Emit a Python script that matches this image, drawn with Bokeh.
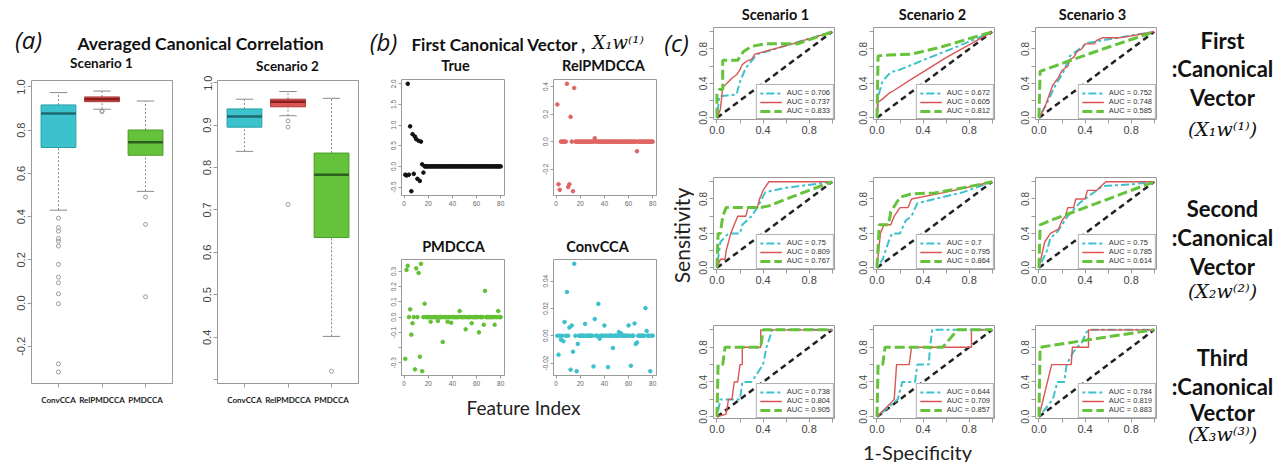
import numpy as np
from bokeh.plotting import figure
from bokeh.layouts import row, column
from bokeh.models import Range1d, FixedTicker, NumeralTickFormatter, Legend, LegendItem
from bokeh.core.properties import value
from bokeh.embed import file_html
from bokeh.resources import INLINE

# ------------------------------------------------------------------ data (a)
METHODS = ["ConvCCA", "RelPMDCCA", "PMDCCA"]
S1_LOWER = [0.43, 0.897, 0.517]
S1_Q1 = [0.72, 0.932, 0.684]
S1_MEDIAN = [0.877, 0.943, 0.744]
S1_Q3 = [0.917, 0.954, 0.801]
S1_UPPER = [0.974, 0.981, 0.935]
S1_OUTLIERS = [
    [0.393, 0.349, 0.333, 0.299, 0.287, 0.264, 0.179, 0.12, 0.094, 0.043, -0.003, -0.281, -0.319],
    [0.889, 0.886],
    [0.491, 0.364, 0.029],
]
S2_LOWER = [0.838, 0.922, 0.402]
S2_Q1 = [0.895, 0.943, 0.635]
S2_MEDIAN = [0.920, 0.955, 0.783]
S2_Q3 = [0.938, 0.961, 0.834]
S2_UPPER = [0.961, 0.979, 0.963]
S2_OUTLIERS = [[], [0.910, 0.895, 0.713], [0.320]]

# ------------------------------------------------------------------ data (b)
FEATURE_INDEX = list(range(1, 81))
TRUE_NONZERO = {1: -0.2, 2: -0.22, 3: 2.0, 4: -0.2, 5: 0.97, 6: -0.6, 7: 0.78, 8: -0.18,
                9: 0.72, 10: 0.66, 11: -0.3, 12: 0.62, 13: -0.35, 14: 0.6, 15: 0.05, 16: -0.15}
REL_NONZERO = {1: 0.27, 2: -0.31, 3: -0.35, 9: 0.42, 10: -0.33, 11: -0.31, 12: 0.18,
               14: -0.36, 15: 0.39, 32: 0.025, 67: -0.07}
PMD_NONZERO = {1: -0.274, 2: 0.31, 3: 0.337, 5: 0.051, 6: -0.115, 7: -0.04, 9: -0.343,
               10: 0.32, 12: 0.29, 13: -0.26, 14: 0.35, 15: -0.355, 17: 0.088, 22: -0.03,
               28: -0.025, 32: -0.163, 36: -0.03, 39: -0.037, 46: 0.04, 51: -0.08,
               56: -0.04, 62: -0.1, 66: -0.05, 67: 0.172, 75: -0.05, 78: 0.04}
CONV_NONZERO = {2: -0.0139, 4: -0.003, 6: -0.004, 7: 0.01, 9: 0.032, 11: 0.006, 12: -0.0249,
                13: 0.0075, 14: -0.0117, 15: 0.0527, 17: -0.026, 18: -0.006, 24: 0.0087,
                31: -0.0225, 32: 0.0122, 35: 0.0233, 36: -0.0022, 40: 0.0075, 43: -0.023,
                47: -0.009, 52: 0.0027, 54: 0.0015, 60: 0.0075, 62: -0.022, 65: 0.009,
                66: -0.006, 67: -0.005, 74: 0.0202, 75: 0.0035, 78: -0.026}

# ------------------------------------------------------------------ data (c)  (FPR, TPR)
CHANCE = [(0, 0), (1, 1)]
R1S1_CONV = [(0, 0), (0.01, 0.12), (0.02, 0.25), (0.17, 0.27), (0.2, 0.42), (0.25, 0.58), (0.3, 0.66), (0.35, 0.74), (0.6, 0.84), (1, 1)]
R1S1_REL = [(0, 0), (0.03, 0.1), (0.05, 0.35), (0.07, 0.38), (0.1, 0.42), (0.13, 0.46), (0.17, 0.5), (0.2, 0.56), (0.22, 0.62), (0.26, 0.66), (0.3, 0.68), (0.33, 0.74), (0.6, 0.84), (1, 1)]
R1S1_PMD = [(0, 0), (0, 0.27), (0.02, 0.33), (0.05, 0.33), (0.05, 0.67), (0.18, 0.67), (0.23, 0.77), (0.3, 0.83), (0.42, 0.86), (0.7, 0.86), (1, 1)]
R1S2_CONV = [(0, 0), (0.01, 0.25), (0.05, 0.43), (0.12, 0.53), (0.2, 0.56), (0.4, 0.67), (0.7, 0.83), (1, 1)]
R1S2_REL = [(0, 0), (0.01, 0.18), (0.05, 0.22), (0.1, 0.28), (0.15, 0.32), (0.3, 0.45), (0.6, 0.7), (1, 1)]
R1S2_PMD = [(0, 0), (0.01, 0.72), (0.1, 0.73), (0.3, 0.74), (0.55, 0.82), (0.8, 0.92), (1, 1)]
R1S3_CONV = [(0, 0), (0.08, 0.2), (0.15, 0.4), (0.2, 0.5), (0.27, 0.72), (0.35, 0.8), (0.42, 0.87), (0.55, 0.9), (1, 1)]
R1S3_REL = [(0, 0), (0.05, 0.12), (0.12, 0.38), (0.17, 0.47), (0.2, 0.55), (0.25, 0.6), (0.27, 0.68), (0.3, 0.7), (0.33, 0.77), (0.37, 0.8), (0.4, 0.86), (0.48, 0.86), (0.5, 0.9), (0.55, 0.93), (0.7, 0.93), (1, 1)]
R1S3_PMD = [(0, 0), (0.01, 0.54), (0.3, 0.68), (0.6, 0.82), (1, 1)]
R2S1_CONV = [(0, 0), (0.01, 0.1), (0.03, 0.3), (0.1, 0.4), (0.2, 0.4), (0.22, 0.5), (0.3, 0.6), (0.35, 0.7), (0.42, 0.88), (0.6, 0.93), (1, 1)]
R2S1_REL = [(0, 0), (0.03, 0.1), (0.07, 0.1), (0.08, 0.2), (0.1, 0.3), (0.12, 0.4), (0.15, 0.5), (0.18, 0.6), (0.25, 0.6), (0.27, 0.7), (0.35, 0.7), (0.37, 0.8), (0.4, 0.9), (0.45, 1.0), (1, 1)]
R2S1_PMD = [(0, 0), (0.01, 0.4), (0.03, 0.4), (0.05, 0.6), (0.08, 0.7), (0.38, 0.7), (0.45, 0.72), (0.7, 0.85), (1, 1)]
R2S2_CONV = [(0, 0), (0.05, 0.1), (0.1, 0.3), (0.13, 0.4), (0.2, 0.4), (0.25, 0.55), (0.3, 0.6), (0.35, 0.75), (0.5, 0.8), (0.75, 0.88), (1, 1)]
R2S2_REL = [(0, 0), (0.03, 0.4), (0.06, 0.5), (0.12, 0.5), (0.15, 0.6), (0.2, 0.7), (0.27, 0.7), (0.3, 0.8), (0.6, 0.88), (1, 1)]
R2S2_PMD = [(0, 0), (0.02, 0.5), (0.1, 0.5), (0.12, 0.65), (0.2, 0.82), (0.3, 0.86), (0.5, 0.87), (0.75, 0.93), (1, 1)]
R2S3_CONV = [(0, 0), (0.07, 0.2), (0.1, 0.35), (0.15, 0.4), (0.2, 0.5), (0.25, 0.6), (0.35, 0.75), (0.45, 0.85), (0.55, 0.95), (0.8, 0.97), (1, 1)]
R2S3_REL = [(0, 0), (0.05, 0.3), (0.1, 0.4), (0.17, 0.45), (0.2, 0.55), (0.23, 0.6), (0.25, 0.7), (0.3, 0.7), (0.32, 0.8), (0.4, 0.8), (0.42, 0.9), (0.5, 0.9), (0.58, 1.0), (1, 1)]
R2S3_PMD = [(0, 0), (0.01, 0.5), (0.1, 0.55), (0.5, 0.75), (1, 1)]
R3S1_CONV = [(0, 0), (0.03, 0.2), (0.2, 0.2), (0.22, 0.4), (0.3, 0.4), (0.4, 0.6), (0.43, 0.8), (0.48, 1.0), (1, 1)]
R3S1_REL = [(0, 0), (0.08, 0.03), (0.1, 0.2), (0.13, 0.2), (0.15, 0.4), (0.18, 0.4), (0.2, 0.6), (0.22, 0.6), (0.22, 0.8), (0.38, 0.8), (0.38, 1.0), (1, 1)]
R3S1_PMD = [(0, 0), (0.01, 0.6), (0.05, 0.6), (0.07, 0.8), (0.38, 0.8), (0.4, 1.0), (1, 1)]
R3S2_CONV = [(0, 0), (0.18, 0.2), (0.22, 0.4), (0.33, 0.4), (0.35, 0.6), (0.45, 0.6), (0.46, 0.8), (0.48, 1.0), (1, 1)]
R3S2_REL = [(0, 0), (0.15, 0.2), (0.17, 0.6), (0.28, 0.6), (0.3, 0.8), (0.82, 0.8), (0.82, 1.0), (1, 1)]
R3S2_PMD = [(0, 0), (0.01, 0.6), (0.05, 0.6), (0.07, 0.8), (0.57, 0.8), (0.7, 1.0), (1, 1)]
R3S3_CONV = [(0, 0), (0.12, 0.2), (0.16, 0.4), (0.22, 0.4), (0.24, 0.6), (0.3, 0.75), (0.37, 0.85), (0.41, 0.97), (0.44, 1.0), (1, 1)]
R3S3_REL = [(0, 0), (0.11, 0.6), (0.28, 0.6), (0.29, 0.8), (0.43, 0.8), (0.43, 1.0), (1, 1)]
R3S3_PMD = [(0, 0), (0.01, 0.8), (0.5, 0.9), (1, 1)]

AUC_ROW1 = [["0.706", "0.737", "0.833"], ["0.672", "0.605", "0.812"], ["0.752", "0.748", "0.585"]]
AUC_ROW2 = [["0.75", "0.809", "0.767"], ["0.7", "0.795", "0.864"], ["0.75", "0.785", "0.614"]]
AUC_ROW3 = [["0.738", "0.804", "0.905"], ["0.644", "0.709", "0.857"], ["0.784", "0.819", "0.883"]]
SCENARIOS = ["Scenario 1", "Scenario 2", "Scenario 3"]
VECTOR_TITLES = ["True", "RelPMDCCA", "PMDCCA", "ConvCCA"]
ROW_LABELS = [["First", ":Canonical", "Vector", "(X\u2081w\u207d\u00b9\u207e)"],
              ["Second", ":Canonical", "Vector", "(X\u2082w\u207d\u00b2\u207e)"],
              ["Third", ":Canonical", "Vector", "(X\u2083w\u207d\u00b3\u207e)"]]

# ------------------------------------------------------------------ styles
CYAN, RED, GREEN = "#3CC2CC", "#DA5552", "#65C23B"
CYAN_D, RED_D, GREEN_D = "#1D6A6E", "#8A1E1E", "#2C5E1C"
BOX_EDGE = ["#2A9FA6", "#A83A38", "#4A9A2A"]
FRAME = "#9a9a9a"
TITLE_FONT = "Lato"
AXIS_FONT = "Liberation Sans"


def base_fig(w, h, xr, yr, mbl, mbr, mbt, mbb):
    p = figure(width=w, height=h, x_range=xr, y_range=yr, output_backend="svg",
               toolbar_location=None, tools="", min_border_left=mbl, min_border_right=mbr,
               min_border_top=mbt, min_border_bottom=mbb)
    p.xgrid.visible = False
    p.ygrid.visible = False
    p.outline_line_color = FRAME
    p.background_fill_color = "white"
    p.border_fill_color = "white"
    for ax in (p.xaxis[0], p.yaxis[0]):
        ax.axis_line_color = None
        ax.major_tick_line_color = FRAME
        ax.minor_tick_line_color = FRAME
        ax.major_tick_out = 4
        ax.major_tick_in = 0
        ax.minor_tick_out = 4
        ax.minor_tick_in = 0
        ax.major_label_text_font = AXIS_FONT
        ax.major_label_text_color = "#444444"
        ax.major_label_standoff = 2
    p.yaxis[0].major_label_orientation = "vertical"
    return p


def canvas(w, h):
    p = figure(width=w, height=h, x_range=Range1d(0, w), y_range=Range1d(h, 0),
               output_backend="svg", toolbar_location=None, tools="", min_border=0,
               x_axis_type=None, y_axis_type=None)
    p.outline_line_color = None
    p.background_fill_color = "white"
    p.border_fill_color = "white"
    return p


def put_text(p, xs, ys, texts, size, font=TITLE_FONT, style="bold", color="#111111",
             align="center", angle=0.0):
    p.text(x=xs, y=ys, text=texts, angle=angle, text_font=value(font), text_font_style=style,
           text_font_size=size, text_align=align, text_baseline="middle", text_color=color)


def boxplot(w, h, mbl, mbr, mbt, mbb, lower, q1, med, q3, upper, outliers, yr, major, minor):
    xs = [1, 2, 3]
    p = base_fig(w, h, Range1d(0.38, 3.62), Range1d(*yr), mbl, mbr, mbt, mbb)
    p.segment(xs, q3, xs, upper, line_color="#8a8a8a", line_dash="2 2", line_width=1)
    p.segment(xs, lower, xs, q1, line_color="#8a8a8a", line_dash="2 2", line_width=1)
    p.segment([x - 0.2 for x in xs], upper, [x + 0.2 for x in xs], upper, line_color="#8a8a8a", line_width=1)
    p.segment([x - 0.2 for x in xs], lower, [x + 0.2 for x in xs], lower, line_color="#8a8a8a", line_width=1)
    p.vbar(x=xs, width=0.8, bottom=q1, top=q3, fill_color=[CYAN, RED, GREEN], line_color=BOX_EDGE)
    p.segment([x - 0.4 for x in xs], med, [x + 0.4 for x in xs], med,
              line_color=[CYAN_D, RED_D, GREEN_D], line_width=2.5)
    ox, oy = [], []
    for x, outs in zip(xs, outliers):
        ox += [x] * len(outs)
        oy += outs
    p.scatter(ox, oy, marker="circle", size=4, fill_color=None, line_color="#9a9a9a", line_width=1)
    p.xaxis[0].ticker = FixedTicker(ticks=xs)
    p.xaxis[0].major_label_overrides = {1: METHODS[0], 2: METHODS[1], 3: METHODS[2]}
    p.xaxis[0].major_label_text_font = TITLE_FONT
    p.xaxis[0].major_label_text_font_style = "bold"
    p.xaxis[0].major_label_text_color = "#222222"
    p.xaxis[0].major_label_text_font_size = "8px"
    p.xaxis[0].major_label_standoff = 7
    p.yaxis[0].ticker = FixedTicker(ticks=major, minor_ticks=minor)
    p.yaxis[0].formatter = NumeralTickFormatter(format="0.0")
    p.yaxis[0].major_label_text_font_size = "11px"
    return p


def pad_range(vals, frac=0.04):
    lo, hi = min(vals), max(vals)
    d = (hi - lo) * frac
    return Range1d(lo - d, hi + d)


def vector_plot(w, h, mbl, mbr, mbt, mbb, nonzero, color, major, minor, fmt):
    ys = [nonzero.get(i, 0.0) for i in FEATURE_INDEX]
    p = base_fig(w, h, pad_range(FEATURE_INDEX), pad_range(ys), mbl, mbr, mbt, mbb)
    p.scatter(FEATURE_INDEX, ys, marker="circle", size=3.6, color=color)
    p.xaxis[0].ticker = FixedTicker(ticks=[0, 20, 40, 60, 80])
    p.xaxis[0].formatter = NumeralTickFormatter(format="0")
    p.yaxis[0].ticker = FixedTicker(ticks=major, minor_ticks=minor)
    p.yaxis[0].formatter = NumeralTickFormatter(format=fmt)
    for ax in (p.xaxis[0], p.yaxis[0]):
        ax.major_label_text_font_size = "6.5px"
        ax.major_label_text_color = "#666666"
        ax.major_tick_out = 3
        ax.minor_tick_out = 3
    return p


def roc_plot(w, h, mbl, mbr, mbt, mbb, curves, aucs):
    p = base_fig(w, h, Range1d(-0.03, 1.02), Range1d(-0.02, 1.05), mbl, mbr, mbt, mbb)
    cx, cy = zip(*CHANCE)
    p.line(cx, cy, line_color="#222222", line_width=2.5, line_dash="6 4")
    styles = [(CYAN, 2, "3 3 8 3"), (RED, 1.4, "solid"), (GREEN, 3, "10 4")]
    items = []
    for pts, auc, (col, lw, dash) in zip(curves, aucs, styles):
        xs, ys = zip(*pts)
        r = p.line(xs, ys, line_color=col, line_width=lw, line_dash=dash)
        items.append(LegendItem(label="AUC = " + auc, renderers=[r]))
    leg = Legend(items=items, location="bottom_right", margin=0, padding=3, spacing=0,
                 label_text_font=AXIS_FONT, label_text_font_size="7.5px", label_height=8,
                 glyph_height=8, glyph_width=22, label_standoff=5,
                 border_line_color="#666666", border_line_width=1,
                 background_fill_color="white", background_fill_alpha=1,
                 label_text_color="#333333")
    p.add_layout(leg)
    p.xaxis[0].ticker = FixedTicker(ticks=[0, 0.4, 0.8], minor_ticks=[0.2, 0.6, 1.0])
    p.yaxis[0].ticker = FixedTicker(ticks=[0, 0.4, 0.8], minor_ticks=[0.2, 0.6, 1.0])
    for ax in (p.xaxis[0], p.yaxis[0]):
        ax.formatter = NumeralTickFormatter(format="0.0")
        ax.major_label_text_font_size = "11px"
    p.yaxis[0].major_label_text_font_size = "10px"
    return p


# ------------------------------------------------------------------ panel (a) + (b)
hdr = canvas(660, 75)
put_text(hdr, [28], [39], ["(a)"], "24px", font="Open Sans", style="italic")
put_text(hdr, [383], [41], ["(b)"], "24px", font="Open Sans", style="italic")
put_text(hdr, [200], [43], ["Averaged Canonical Correlation"], "17.5px")
put_text(hdr, [411], [44], ["First Canonical Vector ,"], "17px", align="left")
put_text(hdr, [592], [42], ["X\u2081w\u207d\u00b9\u207e"], "18px", font="DejaVu Serif",
         style="italic", align="left")
put_text(hdr, [101, 287], [62, 65], SCENARIOS[:2], "13.5px")
put_text(hdr, [455, 603], [65, 65], VECTOR_TITLES[:2], "14.5px")

a1 = boxplot(195, 340, 31, 23, 5, 32, S1_LOWER, S1_Q1, S1_MEDIAN, S1_Q3,
             S1_UPPER, S1_OUTLIERS, (-0.372, 1.030),
             [-0.2, 0.0, 0.2, 0.4, 0.6, 0.8, 1.0], [])
a2 = boxplot(173, 340, 22, 10, 4, 32, S2_LOWER, S2_Q1, S2_MEDIAN, S2_Q3,
             S2_UPPER, S2_OUTLIERS, (0.291, 1.005),
             [0.4, 0.5, 0.6, 0.7, 0.8, 0.9, 1.0], [0.3])

b_true = vector_plot(160, 150, 33, 24, 4, 30, TRUE_NONZERO, "#111111",
                     [-0.5, 0.0, 0.5, 1.0, 1.5, 2.0], [], "0.0")
b_rel = vector_plot(132, 150, 25, 4, 4, 30, REL_NONZERO, "#E06464",
                    [-0.2, 0.0, 0.2, 0.4], [], "0.0")
b_mid = canvas(292, 30)
put_text(b_mid, [85, 229], [21, 21], VECTOR_TITLES[2:], "14.5px")
b_pmd = vector_plot(160, 140, 33, 24, 4, 20, PMD_NONZERO, "#62C032",
                    [-0.3, -0.1, 0.0, 0.1, 0.2, 0.3], [-0.2], "0.0")
b_conv = vector_plot(132, 140, 25, 4, 4, 20, CONV_NONZERO, "#3CC0CC",
                     [-0.02, 0.0, 0.02, 0.04], [], "0.00")
feat = canvas(292, 25)
put_text(feat, [155], [12], ["Feature Index"], "19px", style="normal", color="#222222")

col_b = column(row(b_true, b_rel), b_mid, row(b_pmd, b_conv), feat)
col_ab = column(hdr, row(a1, a2, col_b))

# ------------------------------------------------------------------ panel (c)
strip = canvas(34, 462)
put_text(strip, [16], [42], ["(c)"], "24px", font="Open Sans", style="italic")
put_text(strip, [21], [235], ["Sensitivity"], "21px", style="normal", color="#222222",
         angle=np.pi / 2)

ROWS = [
    ([R1S1_CONV, R1S1_REL, R1S1_PMD], [R1S2_CONV, R1S2_REL, R1S2_PMD], [R1S3_CONV, R1S3_REL, R1S3_PMD]),
    ([R2S1_CONV, R2S1_REL, R2S1_PMD], [R2S2_CONV, R2S2_REL, R2S2_PMD], [R2S3_CONV, R2S3_REL, R2S3_PMD]),
    ([R3S1_CONV, R3S1_REL, R3S1_PMD], [R3S2_CONV, R3S2_REL, R3S2_PMD], [R3S3_CONV, R3S3_REL, R3S3_PMD]),
]
AUCS = [AUC_ROW1, AUC_ROW2, AUC_ROW3]
COL_GEOM = [(161, 19, 21), (160, 18, 21), (155, 20, 14)]
ROW_GEOM = [(126, 5, 29), (149, 29, 28), (143, 28, 22)]

c_hdr = canvas(476, 22)
put_text(c_hdr, [81, 238, 398], [14, 14, 14], SCENARIOS, "14.5px")

grid_rows = []
for r in range(3):
    figs = []
    h, mbt, mbb = ROW_GEOM[r]
    for c in range(3):
        w, mbl, mbr = COL_GEOM[c]
        figs.append(roc_plot(w, h, mbl, mbr, mbt, mbb, ROWS[r][c], AUCS[r][c]))
    grid_rows.append(row(*figs))

spec = canvas(476, 22)
put_text(spec, [223], [11], ["1-Specificity"], "20px", style="normal", color="#222222")
col_c = column(c_hdr, *grid_rows, spec)

labels = canvas(103, 462)
LABEL_Y = [[40, 68, 97, 128], [208, 237, 266, 290], [357, 386, 412, 433]]
for words, ys in zip(ROW_LABELS, LABEL_Y):
    put_text(labels, [52, 52, 52], ys[:3], words[:3], "22px")
    put_text(labels, [52], [ys[3]], [words[3]], "19px", font="DejaVu Serif", style="italic")

layout = row(col_ab, strip, col_c, labels)
open("out.html", "w").write(file_html(layout, INLINE))
